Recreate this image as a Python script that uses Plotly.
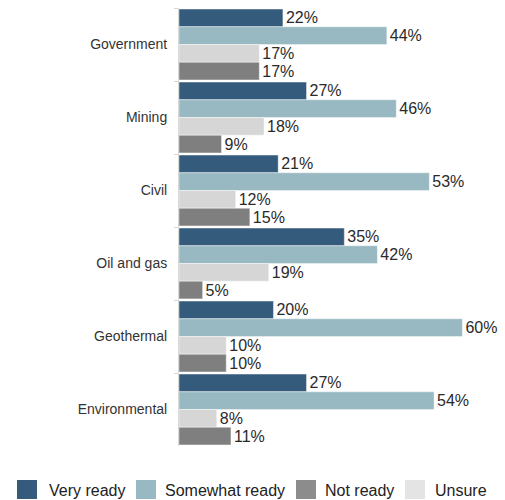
import plotly.graph_objects as go

# Survey data: readiness by sector (percent of respondents)
sectors = ["Government", "Mining", "Civil", "Oil and gas", "Geothermal", "Environmental"]
very_ready = [22, 27, 21, 35, 20, 27]
somewhat_ready = [44, 46, 53, 42, 60, 54]
unsure = [17, 18, 12, 19, 10, 8]
not_ready = [17, 9, 15, 5, 10, 11]

legend_labels = ["Very ready", "Somewhat ready", "Not ready", "Unsure"]

COL_VERY = "#345b7b"
COL_SOMEWHAT = "#98b8c2"
COL_NOT = "#7f7f7f"
COL_UNSURE = "#d6d6d6"
legend_colors = [COL_VERY, "#98b8c2", "#8c8c8c", "#e4e4e4"]

FONT = "Liberation Sans, Arial, sans-serif"

W, H = 505, 500
ML, MR, MT, MB = 179, 19, 8, 54
PW, PH = W - ML - MR, H - MT - MB


def px_x(px):
    return (px - ML) / PW


def px_y(py):
    return (H - MB - py) / PH


fig = go.Figure()
series = [
    ("Very ready", very_ready, COL_VERY),
    ("Somewhat ready", somewhat_ready, COL_SOMEWHAT),
    ("Unsure", unsure, COL_UNSURE),
    ("Not ready", not_ready, COL_NOT),
]
for name, vals, col in series:
    fig.add_trace(go.Bar(
        name=name, y=sectors, x=vals, orientation="h",
        marker=dict(color=col, line=dict(color="rgba(255,255,255,0.7)", width=0.6)),
        texttemplate="%{x}%", textposition="outside",
        textfont=dict(size=16, color="#2a2a2a", family=FONT),
        cliponaxis=False, showlegend=False,
    ))

# Legend drawn as coloured squares with labels along the bottom
leg_sq_x = [17, 136, 296, 405]
leg_tx_x = [47, 163, 323, 433]
shapes = []
annotations = []
for lab, col, sx, tx in zip(legend_labels, legend_colors, leg_sq_x, leg_tx_x):
    shapes.append(dict(type="rect", xref="paper", yref="paper",
                       x0=px_x(sx), x1=px_x(sx + 20), y0=px_y(499), y1=px_y(480),
                       fillcolor=col, line=dict(width=0)))
    annotations.append(dict(text=lab, xref="paper", yref="paper",
                            x=px_x(tx), y=px_y(490), xanchor="left", yanchor="middle",
                            showarrow=False,
                            font=dict(size=16, color="#222222", family=FONT)))

fig.update_layout(
    width=W, height=H,
    margin=dict(l=ML, r=MR, t=MT, b=MB),
    paper_bgcolor="white", plot_bgcolor="white",
    barmode="group", bargap=0.03, bargroupgap=0,
    font=dict(family=FONT),
    xaxis=dict(range=[0, 65], visible=False),
    yaxis=dict(autorange="reversed", showline=True, linecolor="#d8d8d8", linewidth=1,
               ticks="outside", tickson="boundaries", ticklen=4, tickcolor="#d8d8d8",
               ticklabelstandoff=8,
               tickfont=dict(size=14, color="#333333", family=FONT)),
    shapes=shapes, annotations=annotations,
)

fig.write_html("out.html")
